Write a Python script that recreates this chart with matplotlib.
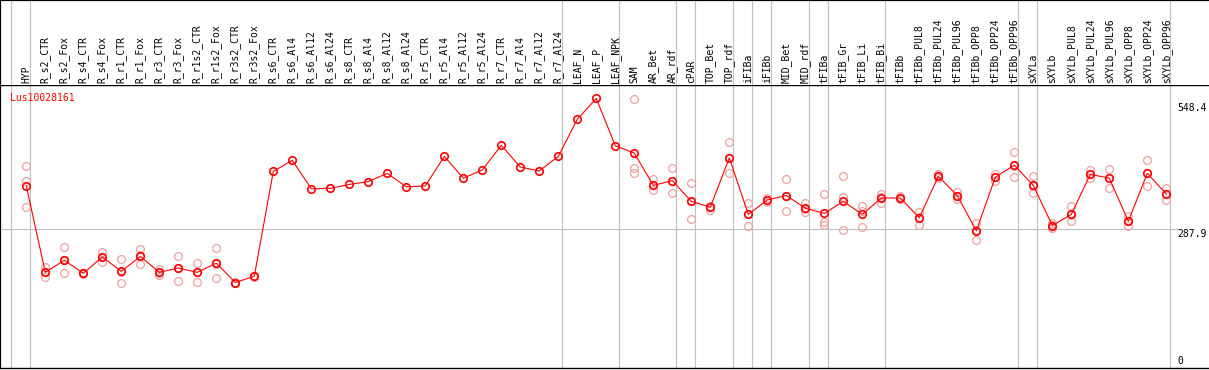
import matplotlib
matplotlib.use("Agg")
import matplotlib.pyplot as plt

categories = ["HYP", "R_s2_CTR", "R_s2_Fox", "R_s4_CTR", "R_s4_Fox", "R_r1_CTR", "R_r1_Fox",
              "R_r3_CTR", "R_r3_Fox", "R_r1s2_CTR", "R_r1s2_Fox", "R_r3s2_CTR", "R_r3s2_Fox",
              "R_s6_CTR", "R_s6_Al4", "R_s6_Al12", "R_s6_Al24", "R_s8_CTR", "R_s8_Al4",
              "R_s8_Al12", "R_s8_Al24", "R_r5_CTR", "R_r5_Al4", "R_r5_Al12", "R_r5_Al24",
              "R_r7_CTR", "R_r7_Al4", "R_r7_Al12", "R_r7_Al24", "LEAF_N", "LEAF_P", "LEAF_NPK",
              "SAM", "AR_Bet", "AR_rdf", "cPAR", "TOP_Bet", "TOP_rdf", "iFIBa", "iFIBb",
              "MID_Bet", "MID_rdf", "tFIBa", "tFIB_Gr", "tFIB_Li", "tFIB_Bi", "tFIBb",
              "tFIBb_PUL8", "tFIBb_PUL24", "tFIBb_PUL96", "tFIBb_OPP8", "tFIBb_OPP24",
              "tFIBb_OPP96", "sXYLa", "sXYLb", "sXYLb_PUL8", "sXYLb_PUL24", "sXYLb_PUL96",
              "sXYLb_OPP8", "sXYLb_OPP24", "sXYLb_OPP96"]

means = [377, 198, 223, 196, 230, 200, 231, 198, 207, 198, 217, 177, 190,
         407, 430, 371, 372, 380, 386, 403, 375, 377, 438, 393, 410, 461, 416, 408, 438,
         515, 558, 460, 445, 378, 388, 345, 333, 435, 318, 348, 357, 331, 320, 345, 318,
         352, 352, 311, 397, 357, 284, 395, 420, 378, 295, 318, 401, 393, 304, 403, 360]

replicates = [
    [418, 387, 333], [210, 188, 198], [250, 196, 223], [196, 197, 195], [241, 219, 229],
    [225, 177, 198], [246, 215, 233], [205, 192, 197], [232, 181, 207], [217, 179, 199],
    [248, 186, 216], [177, 178, 176], [190, 191, 189],
    [], [], [], [], [], [], [], [], [], [], [], [], [], [], [], [], [], [], [],
    [557, 415, 403], [391, 368, 378], [415, 362, 388], [382, 308, 345], [328, 336, 334],
    [467, 403, 435], [341, 294, 318], [343, 352, 348], [391, 326, 357], [341, 324, 330],
    [360, 303, 297], [397, 354, 285], [336, 292, 326], [360, 342, 354], [356, 349, 352],
    [322, 297, 312], [401, 393, 397], [365, 350, 357], [300, 266, 285], [402, 387, 396],
    [447, 395, 418], [397, 362, 376], [300, 289, 297], [335, 304, 316], [409, 394, 401],
    [413, 372, 393], [315, 293, 305], [430, 376, 403], [372, 348, 360],
]

group_ends = [-1, 0, 28, 31, 34, 35, 37, 38, 39, 41, 42, 45, 52, 53, 60]
gene = "Lus10028161"
ref_values = [548.4, 287.9, 0]
ref_labels = ["548.4", "287.9", "0"]

FONT = "DejaVu Sans Mono"
FS = 7
GRID = "#c0c0c0"
RED = "#ff0000"
PINK = "#f0a0a0"

W, H = 1209, 370
fig = plt.figure(figsize=(W / 100, H / 100), dpi=100)
fig.patch.set_facecolor("white")

x0 = -1.384
x1 = 62.247
header_px = 85
bottom_px = 368
ytop = 585.9

ax = fig.add_axes([0, (H - bottom_px) / H, 1, (bottom_px - header_px) / H])
hx = fig.add_axes([0, (H - header_px) / H, 1, header_px / H])

for a in (ax, hx):
    a.set_xlim(x0, x1)
    a.set_xticks([])
    a.set_yticks([])
    a.set_facecolor("white")
    a.spines["right"].set_visible(False)
    for g in group_ends:
        a.axvline(g + 0.22, color=GRID, lw=0.8, zorder=1)

ax.set_ylim(0, ytop)
hx.set_ylim(0, header_px)

hx.spines["bottom"].set_visible(False)
ax.spines["top"].set_linewidth(1.0)
ax.spines["bottom"].set_linewidth(1.0)
ax.spines["left"].set_linewidth(1.6)
hx.spines["left"].set_linewidth(1.6)
hx.spines["top"].set_linewidth(1.6)

# reference horizontal line
ax.plot([x0, 60.62], [ref_values[1], ref_values[1]], color=GRID, lw=0.8, zorder=1)

xs = list(range(len(categories)))

# replicates
for i, reps in enumerate(replicates):
    if reps:
        ax.plot([i] * len(reps), reps, linestyle="none", marker="o", markersize=5.6,
                markerfacecolor="none", markeredgecolor=PINK, markeredgewidth=0.9, zorder=2)

# mean line
ax.plot(xs, means, color=RED, lw=0.8, zorder=3)
ax.plot(xs, means, linestyle="none", marker="o", markersize=5.4, markerfacecolor="none",
        markeredgecolor=RED, markeredgewidth=1.2, zorder=4)

# header labels
for i, c in enumerate(categories):
    hx.text(i, 2.2, c, rotation=90, ha="center", va="bottom", fontsize=FS,
            family=FONT, color="black")

# gene name
ax.text((10 - 26.3) / 19.0, 569, gene, color=RED, fontsize=FS, family=FONT,
        ha="left", va="top")

# right scale labels
lx = (1177.5 - 26.3) / 19.0
ax.text(lx, ref_values[0], ref_labels[0], fontsize=FS, family=FONT, ha="left", va="top")
ax.text(lx, ref_values[1], ref_labels[1], fontsize=FS, family=FONT, ha="left", va="top")
ax.text(lx, 4, ref_labels[2], fontsize=FS, family=FONT, ha="left", va="bottom")

fig.savefig("out.png", dpi=100, facecolor="white")
